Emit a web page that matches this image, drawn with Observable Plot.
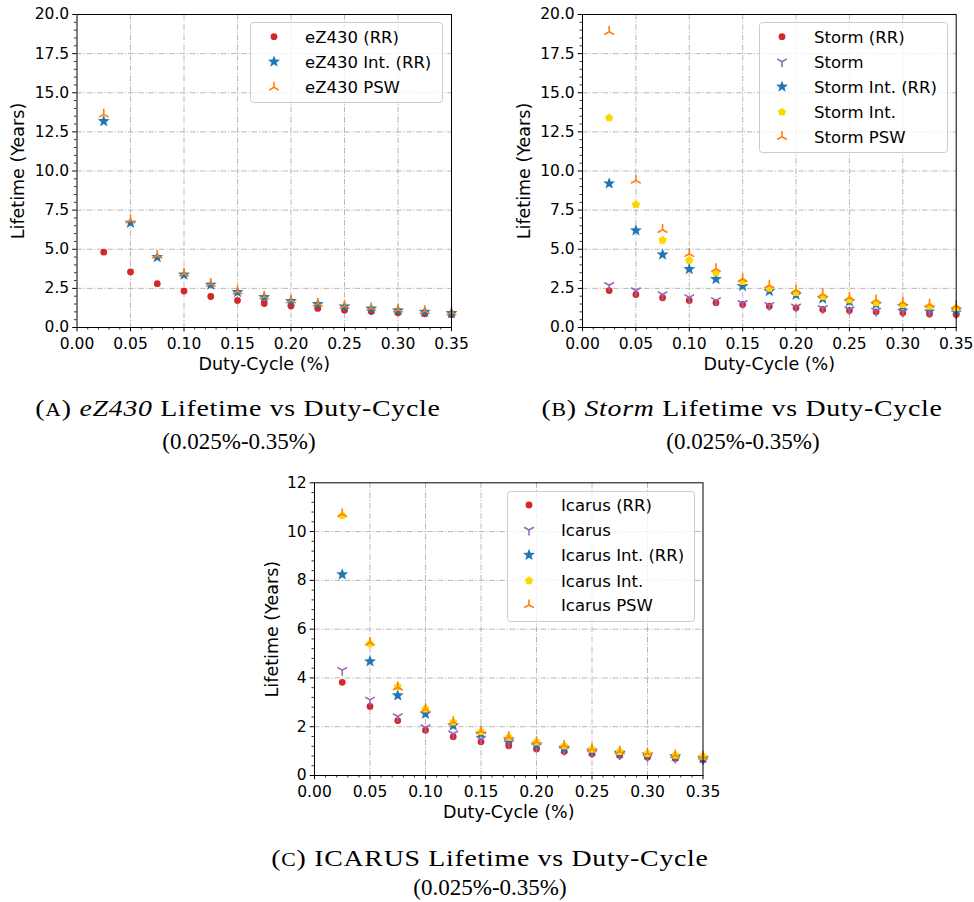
<!DOCTYPE html>
<html>
<head>
<meta charset="utf-8">
<script src="https://cdn.jsdelivr.net/npm/d3@7"></script>
<script src="https://cdn.jsdelivr.net/npm/@observablehq/plot@0.6"></script>
<style>
  body { margin: 0; background: #fff; }
  #page { position: relative; width: 974px; height: 902px; overflow: hidden; background: #fff; }
  .panel { position: absolute; }
  .panel svg { overflow: visible; }
  .panel g[aria-label="x-axis tick label"], .panel g[aria-label="y-axis tick label"] { font-size: 15.5px; }
  .panel g[aria-label="x-axis label"], .panel g[aria-label="y-axis label"] { font-size: 17.5px; }
  .legend { position: absolute; overflow: visible; }
  .cap { position: absolute; font-family: "Liberation Serif", serif; font-size: 23px; color: #000; white-space: nowrap; transform: translate(-50%, -50%); line-height: 1; }
  .cap.wide { letter-spacing: 0.6px; transform: translate(-50%, -50%) scaleX(1.21); }
  .sc { font-size: 0.78em; }
</style>
</head>
<body>
<div id="page"></div>
<script>
// ---------------- data ----------------
const dutyCycle = [0.025, 0.05, 0.075, 0.1, 0.125, 0.15, 0.175, 0.2, 0.225, 0.25, 0.275, 0.3, 0.325, 0.35];
const xTicks = [0, 0.05, 0.1, 0.15, 0.2, 0.25, 0.3, 0.35];
const yTicksAB = [0, 2.5, 5, 7.5, 10, 12.5, 15, 17.5, 20];
const yTicksC = [0, 2, 4, 6, 8, 10, 12];

// eZ430
const ez430RR    = [4.81, 3.55, 2.80, 2.33, 1.98, 1.73, 1.53, 1.37, 1.22, 1.11, 1.02, 0.94, 0.88, 0.82];
const ez430IntRR = [13.18, 6.69, 4.49, 3.37, 2.73, 2.26, 1.94, 1.68, 1.49, 1.34, 1.20, 1.09, 1.00, 0.91];
const ez430PSW   = [13.62, 6.85, 4.60, 3.45, 2.80, 2.32, 1.99, 1.74, 1.54, 1.39, 1.26, 1.15, 1.06, 0.98];

// Storm
const stormRR    = [2.36, 2.11, 1.90, 1.73, 1.58, 1.47, 1.36, 1.26, 1.15, 1.09, 1.00, 0.94, 0.87, 0.83];
const storm      = [2.70, 2.36, 2.11, 1.92, 1.73, 1.55, 1.43, 1.32, 1.23, 1.15, 1.06, 1.02, 0.96, 0.90];
const stormIntRR = [9.20, 6.20, 4.66, 3.73, 3.09, 2.64, 2.32, 2.09, 1.85, 1.66, 1.49, 1.36, 1.26, 1.13];
const stormInt   = [13.40, 7.86, 5.58, 4.30, 3.50, 2.94, 2.51, 2.24, 1.98, 1.77, 1.60, 1.47, 1.36, 1.26];
const stormPSW   = [18.90, 9.40, 6.25, 4.71, 3.75, 3.10, 2.70, 2.38, 2.13, 1.92, 1.75, 1.60, 1.48, 1.38];

// Icarus
const icarusRR    = [3.82, 2.83, 2.25, 1.86, 1.59, 1.38, 1.22, 1.09, 0.98, 0.89, 0.82, 0.75, 0.70, 0.64];
const icarus      = [4.32, 3.10, 2.42, 1.97, 1.71, 1.50, 1.32, 1.19, 1.05, 0.95, 0.86, 0.79, 0.72, 0.67];
const icarusIntRR = [8.24, 4.68, 3.28, 2.53, 2.05, 1.71, 1.48, 1.27, 1.13, 1.02, 0.93, 0.86, 0.79, 0.72];
const icarusInt   = [10.66, 5.40, 3.65, 2.73, 2.19, 1.80, 1.57, 1.37, 1.22, 1.08, 0.98, 0.90, 0.83, 0.79];
const icarusPSW   = [10.72, 5.45, 3.62, 2.72, 2.20, 1.82, 1.58, 1.38, 1.23, 1.09, 0.99, 0.91, 0.84, 0.78];

// ---------------- styles ----------------
const C = { red: "#d62728", purple: "#9467bd", blue: "#1f77b4", gold: "#ffd700", orange: "#ff7f0e" };

const rad = (size) => Math.sqrt(size / Math.PI);
const symStar = { draw(ctx, size) { const r = rad(size), ri = r * 0.42;
  for (let i = 0; i < 10; i++) { const a = -Math.PI / 2 + i * Math.PI / 5, rr = i % 2 ? ri : r;
    const x = rr * Math.cos(a), y = rr * Math.sin(a); if (i) ctx.lineTo(x, y); else ctx.moveTo(x, y); }
  ctx.closePath(); } };
const symPent = { draw(ctx, size) { const r = rad(size);
  for (let i = 0; i < 5; i++) { const a = -Math.PI / 2 + i * 2 * Math.PI / 5;
    const x = r * Math.cos(a), y = r * Math.sin(a); if (i) ctx.lineTo(x, y); else ctx.moveTo(x, y); }
  ctx.closePath(); } };
const symTriUp = { draw(ctx, size) { const r = rad(size);
  ctx.moveTo(0, 0); ctx.lineTo(0, -r); ctx.moveTo(0, 0); ctx.lineTo(-0.866 * r, 0.5 * r);
  ctx.moveTo(0, 0); ctx.lineTo(0.866 * r, 0.5 * r); } };
const symTriDown = { draw(ctx, size) { const r = rad(size);
  ctx.moveTo(0, 0); ctx.lineTo(0, r); ctx.moveTo(0, 0); ctx.lineTo(-0.866 * r, -0.5 * r);
  ctx.moveTo(0, 0); ctx.lineTo(0.866 * r, -0.5 * r); } };

const kinds = {
  circle: { symbol: d3.symbolCircle, r: 3.4, filled: true },
  star:   { symbol: symStar, r: 6.3, filled: true },
  pent:   { symbol: symPent, r: 4.3, filled: true },
  triUp:  { symbol: symTriUp, r: 5.6, filled: false },
  triDown:{ symbol: symTriDown, r: 5.6, filled: false }
};

const panels = [
  { id: "A", left: 0, top: 0, width: 480, height: 380,
    margin: { l: 76.5, r: 29, t: 14, b: 53 }, yDomain: [0, 20], yTicks: yTicksAB, yMinorStep: 0.5, yFmt: ".1f", yLabelOffset: 65,
    legend: { left: 250, top: 22, width: 192, height: 80, markerX: 24, textX: 55, rows: [14.7, 39.7, 65.3] },
    series: [
      { name: "eZ430 (RR)", values: ez430RR, kind: "circle", color: C.red },
      { name: "eZ430 Int. (RR)", values: ez430IntRR, kind: "star", color: C.blue },
      { name: "eZ430 PSW", values: ez430PSW, kind: "triUp", color: C.orange }
    ] },
  { id: "B", left: 500, top: 0, width: 474, height: 380,
    margin: { l: 82, r: 18.3, t: 14, b: 53 }, yDomain: [0, 20], yTicks: yTicksAB, yMinorStep: 0.5, yFmt: ".1f", yLabelOffset: 65,
    legend: { left: 759, top: 22, width: 188, height: 130, markerX: 23, textX: 55, rows: [14.7, 39.7, 64.7, 90, 114.7] },
    series: [
      { name: "Storm (RR)", values: stormRR, kind: "circle", color: C.red },
      { name: "Storm", values: storm, kind: "triDown", color: C.purple },
      { name: "Storm Int. (RR)", values: stormIntRR, kind: "star", color: C.blue },
      { name: "Storm Int.", values: stormInt, kind: "pent", color: C.gold },
      { name: "Storm PSW", values: stormPSW, kind: "triUp", color: C.orange }
    ] },
  { id: "C", left: 250, top: 470, width: 470, height: 360,
    margin: { l: 64, r: 17.5, t: 12.3, b: 55 }, yDomain: [0, 12], yTicks: yTicksC, yMinorStep: 0.4, yFmt: "d", yLabelOffset: 49,
    legend: { left: 507, top: 491, width: 187, height: 130, markerX: 22, textX: 54, rows: [14, 39, 64, 89.7, 114] },
    series: [
      { name: "Icarus (RR)", values: icarusRR, kind: "circle", color: C.red },
      { name: "Icarus", values: icarus, kind: "triDown", color: C.purple },
      { name: "Icarus Int. (RR)", values: icarusIntRR, kind: "star", color: C.blue },
      { name: "Icarus Int.", values: icarusInt, kind: "pent", color: C.gold },
      { name: "Icarus PSW", values: icarusPSW, kind: "triUp", color: C.orange }
    ] }
];

const page = document.getElementById("page");
const gridStyle = { stroke: "#b0b0b0", strokeOpacity: 1, strokeWidth: 0.9, strokeDasharray: "5.5,1.8,1.2,1.8" };

for (const p of panels) {
  const xMinor = d3.range(0, 0.3501, 0.01).filter(v => !xTicks.some(t => Math.abs(t - v) < 1e-9));
  const yMinor = d3.range(0, p.yDomain[1] + 1e-9, p.yMinorStep).filter(v => !p.yTicks.some(t => Math.abs(t - v) < 1e-9));
  const dotMarks = p.series.map(s => {
    const k = kinds[s.kind];
    const rows = dutyCycle.map((x, i) => ({ x, y: s.values[i] }));
    return Plot.dot(rows, {
      x: "x", y: "y", symbol: () => k.symbol, r: k.r,
      fill: k.filled ? s.color : "none",
      stroke: k.filled ? "none" : s.color,
      strokeWidth: k.filled ? 0 : 1.6
    });
  });
  const chart = Plot.plot({
    width: p.width, height: p.height,
    marginLeft: p.margin.l, marginRight: p.margin.r, marginTop: p.margin.t, marginBottom: p.margin.b,
    style: { fontFamily: "DejaVu Sans, sans-serif", fontSize: "15.5px", color: "black", background: "transparent", overflow: "visible" },
    x: { domain: [0, 0.35] },
    y: { domain: p.yDomain },
    symbol: { type: "identity" },
    marks: [
      Plot.gridX(xTicks.slice(1, -1), gridStyle),
      Plot.gridY(p.yTicks.slice(1, -1), gridStyle),
      ...dotMarks,
      Plot.frame({ stroke: "black", strokeWidth: 1 }),
      Plot.axisX(xMinor, { tickSize: 2.5, fill: "none", stroke: "black", strokeWidth: 0.8 }),
      Plot.axisY(yMinor, { tickSize: 2.5, fill: "none", stroke: "black", strokeWidth: 0.8 }),
      Plot.axisX(xTicks, { tickSize: 4.3, tickPadding: 6.5, tickFormat: d3.format(".2f"), stroke: "black", fill: "black",
        label: "Duty-Cycle (%)", labelAnchor: "center", labelArrow: "none", labelOffset: 42 }),
      Plot.axisY(p.yTicks, { tickSize: 4.3, tickPadding: 3.5, tickFormat: d3.format(p.yFmt), stroke: "black", fill: "black",
        label: "Lifetime (Years)", labelAnchor: "center", labelArrow: "none", labelOffset: p.yLabelOffset })
    ]
  });
  const wrap = document.createElement("div");
  wrap.className = "panel";
  wrap.style.left = p.left + "px";
  wrap.style.top = p.top + "px";
  wrap.appendChild(chart);
  page.appendChild(wrap);

  // legend
  const L = p.legend;
  const svg = d3.select(page).append("svg").attr("class", "legend")
    .style("left", L.left + "px").style("top", L.top + "px")
    .attr("width", L.width + 2).attr("height", L.height + 2);
  svg.append("rect").attr("x", 0.5).attr("y", 0.5).attr("width", L.width).attr("height", L.height)
    .attr("rx", 3).attr("fill", "white").attr("fill-opacity", 0.8).attr("stroke", "#cccccc").attr("stroke-width", 1);
  p.series.forEach((s, i) => {
    const k = kinds[s.kind];
    const g = svg.append("g").attr("transform", `translate(${L.markerX},${L.rows[i]})`);
    g.append("path").attr("d", d3.symbol(k.symbol, Math.PI * k.r * k.r)())
      .attr("fill", k.filled ? s.color : "none").attr("stroke", k.filled ? "none" : s.color).attr("stroke-width", 1.6);
    svg.append("text").attr("x", L.textX).attr("y", L.rows[i]).attr("dy", "0.36em")
      .attr("font-family", "DejaVu Sans, sans-serif").attr("font-size", "16.5px").attr("fill", "black").text(s.name);
  });
}

// captions
function cap(html, x, y, wide) {
  const d = document.createElement("div");
  d.className = wide ? "cap wide" : "cap"; d.innerHTML = html;
  d.style.left = x + "px"; d.style.top = y + "px";
  page.appendChild(d);
}
cap('(<span class="sc">A</span>) <i>eZ430</i> Lifetime vs Duty-Cycle', 238, 408, true);
cap('(0.025%-0.35%)', 239, 441);
cap('(<span class="sc">B</span>) <i>Storm</i> Lifetime vs Duty-Cycle', 742, 408, true);
cap('(0.025%-0.35%)', 743, 441);
cap('(<span class="sc">C</span>) ICARUS Lifetime vs Duty-Cycle', 490, 858, true);
cap('(0.025%-0.35%)', 490, 887);
</script>
</body>
</html>
